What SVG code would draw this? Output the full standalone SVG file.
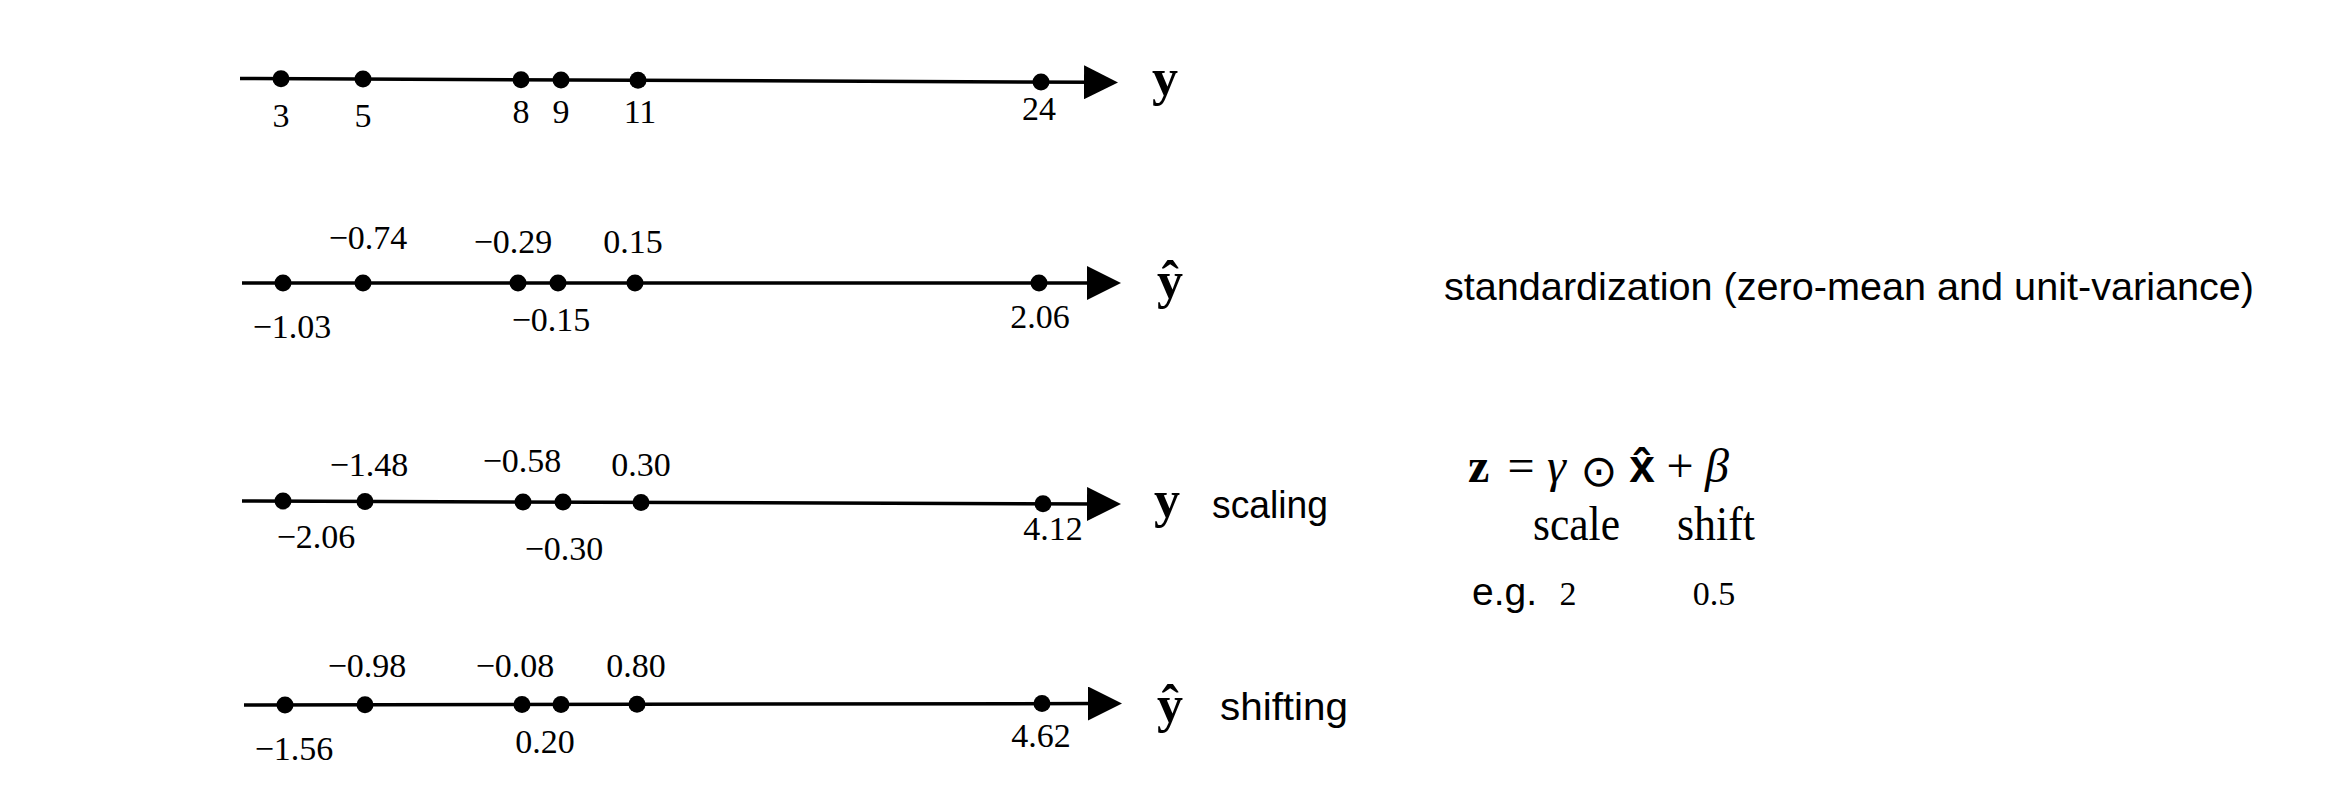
<svg xmlns="http://www.w3.org/2000/svg" width="2328" height="802" viewBox="0 0 2328 802">
<style>
  .axis { stroke: #000; stroke-width: 3.5; fill: none; marker-end: url(#arrow); }
  .dot { fill: #000; }
  .num { font-family: "Liberation Serif", "DejaVu Serif", serif; font-size: 34px; fill: #000; text-anchor: middle; }
  .var { font-family: "Liberation Serif", "DejaVu Serif", serif; font-size: 52px; font-weight: bold; fill: #000; text-anchor: middle; }
  .sans { font-family: "Liberation Sans", "Arial", sans-serif; fill: #000; }
  .math { font-family: "Liberation Serif", "DejaVu Serif", serif; font-size: 48px; fill: #000; }
</style>
<defs>
  <marker id="arrow" markerUnits="userSpaceOnUse" markerWidth="34" markerHeight="34" viewBox="0 0 34 34" refX="10" refY="17" orient="auto">
    <path d="M0,0 L34,17 L0,34 Z" fill="#000"/>
  </marker>
</defs>
<rect width="2328" height="802" fill="#fff"/>

<g id="connectors">
  <line class="axis" x1="240" y1="78.5" x2="1094" y2="82.3"/>
  <line class="axis" x1="242" y1="283" x2="1097" y2="283"/>
  <line class="axis" x1="242" y1="501" x2="1097" y2="504"/>
  <line class="axis" x1="244" y1="705" x2="1098" y2="703.5"/>
</g>

<g id="row-y">
  <circle class="dot" cx="281" cy="78.7" r="8.5"/>
  <circle class="dot" cx="363" cy="79" r="8.5"/>
  <circle class="dot" cx="521" cy="79.7" r="8.5"/>
  <circle class="dot" cx="561" cy="79.9" r="8.5"/>
  <circle class="dot" cx="638" cy="80.3" r="8.5"/>
  <circle class="dot" cx="1041" cy="82.1" r="8.5"/>
  <text class="num" x="281" y="127">3</text>
  <text class="num" x="363" y="127">5</text>
  <text class="num" x="521" y="123">8</text>
  <text class="num" x="561" y="123">9</text>
  <text class="num" x="640" y="123">11</text>
  <text class="num" x="1039" y="120">24</text>
  <text class="var" x="1165" y="95">y</text>
</g>

<g id="row-yhat">
  <circle class="dot" cx="283" cy="283" r="8.5"/>
  <circle class="dot" cx="363" cy="283" r="8.5"/>
  <circle class="dot" cx="518" cy="283" r="8.5"/>
  <circle class="dot" cx="558" cy="283" r="8.5"/>
  <circle class="dot" cx="635" cy="283" r="8.5"/>
  <circle class="dot" cx="1039" cy="283" r="8.5"/>
  <text class="num" x="368" y="249">−0.74</text>
  <text class="num" x="513" y="253">−0.29</text>
  <text class="num" x="633" y="253">0.15</text>
  <text class="num" x="292" y="338">−1.03</text>
  <text class="num" x="551" y="331">−0.15</text>
  <text class="num" x="1040" y="328">2.06</text>
  <text class="var" x="1170" y="298">ŷ</text>
</g>

<g id="row-scaling">
  <circle class="dot" cx="283" cy="501.1" r="8.5"/>
  <circle class="dot" cx="365" cy="501.4" r="8.5"/>
  <circle class="dot" cx="523" cy="502" r="8.5"/>
  <circle class="dot" cx="563" cy="502.1" r="8.5"/>
  <circle class="dot" cx="641" cy="502.4" r="8.5"/>
  <circle class="dot" cx="1043" cy="503.8" r="8.5"/>
  <text class="num" x="369" y="476">−1.48</text>
  <text class="num" x="522" y="472">−0.58</text>
  <text class="num" x="641" y="476">0.30</text>
  <text class="num" x="316" y="548">−2.06</text>
  <text class="num" x="564" y="560">−0.30</text>
  <text class="num" x="1053" y="540">4.12</text>
  <text class="var" x="1167" y="517">y</text>
  <text class="sans" x="1212" y="518" font-size="38" textLength="116" lengthAdjust="spacingAndGlyphs">scaling</text>
</g>

<g id="row-shifting">
  <circle class="dot" cx="285" cy="704.9" r="8.5"/>
  <circle class="dot" cx="365" cy="704.8" r="8.5"/>
  <circle class="dot" cx="522" cy="704.5" r="8.5"/>
  <circle class="dot" cx="561" cy="704.4" r="8.5"/>
  <circle class="dot" cx="637" cy="704.3" r="8.5"/>
  <circle class="dot" cx="1042" cy="703.6" r="8.5"/>
  <text class="num" x="367" y="677">−0.98</text>
  <text class="num" x="515" y="677">−0.08</text>
  <text class="num" x="636" y="677">0.80</text>
  <text class="num" x="294" y="760">−1.56</text>
  <text class="num" x="545" y="753">0.20</text>
  <text class="num" x="1041" y="747">4.62</text>
  <text class="var" x="1170" y="722">ŷ</text>
  <text class="sans" x="1220" y="720" font-size="38" textLength="128" lengthAdjust="spacingAndGlyphs">shifting</text>
</g>

<g id="standardization">
  <text class="sans" x="1444" y="300" font-size="39" textLength="810" lengthAdjust="spacingAndGlyphs">standardization (zero-mean and unit-variance)</text>
</g>

<g id="formula">
  <text class="math" x="1468" y="482" font-weight="bold">z</text>
  <text class="math" x="1521" y="482" text-anchor="middle">=</text>
  <text class="math" x="1547" y="482" font-style="italic">γ</text>
  <text x="1599" y="486" text-anchor="middle" font-family="DejaVu Sans, sans-serif" font-size="44">⊙</text>
  <text x="1642" y="482" text-anchor="middle" font-family="Liberation Sans, DejaVu Sans, sans-serif" font-weight="bold" font-size="46">x̂</text>
  <text class="math" x="1680" y="482" text-anchor="middle">+</text>
  <text class="math" x="1705" y="482" font-style="italic">β</text>
  <text class="math" x="1533" y="540" font-size="42" textLength="87" lengthAdjust="spacingAndGlyphs">scale</text>
  <text class="math" x="1677" y="540" font-size="42" textLength="78" lengthAdjust="spacingAndGlyphs">shift</text>
</g>

<g id="example">
  <text class="sans" x="1472" y="605" font-size="39">e.g.</text>
  <text class="num" x="1568" y="605">2</text>
  <text class="num" x="1714" y="605">0.5</text>
</g>
</svg>
